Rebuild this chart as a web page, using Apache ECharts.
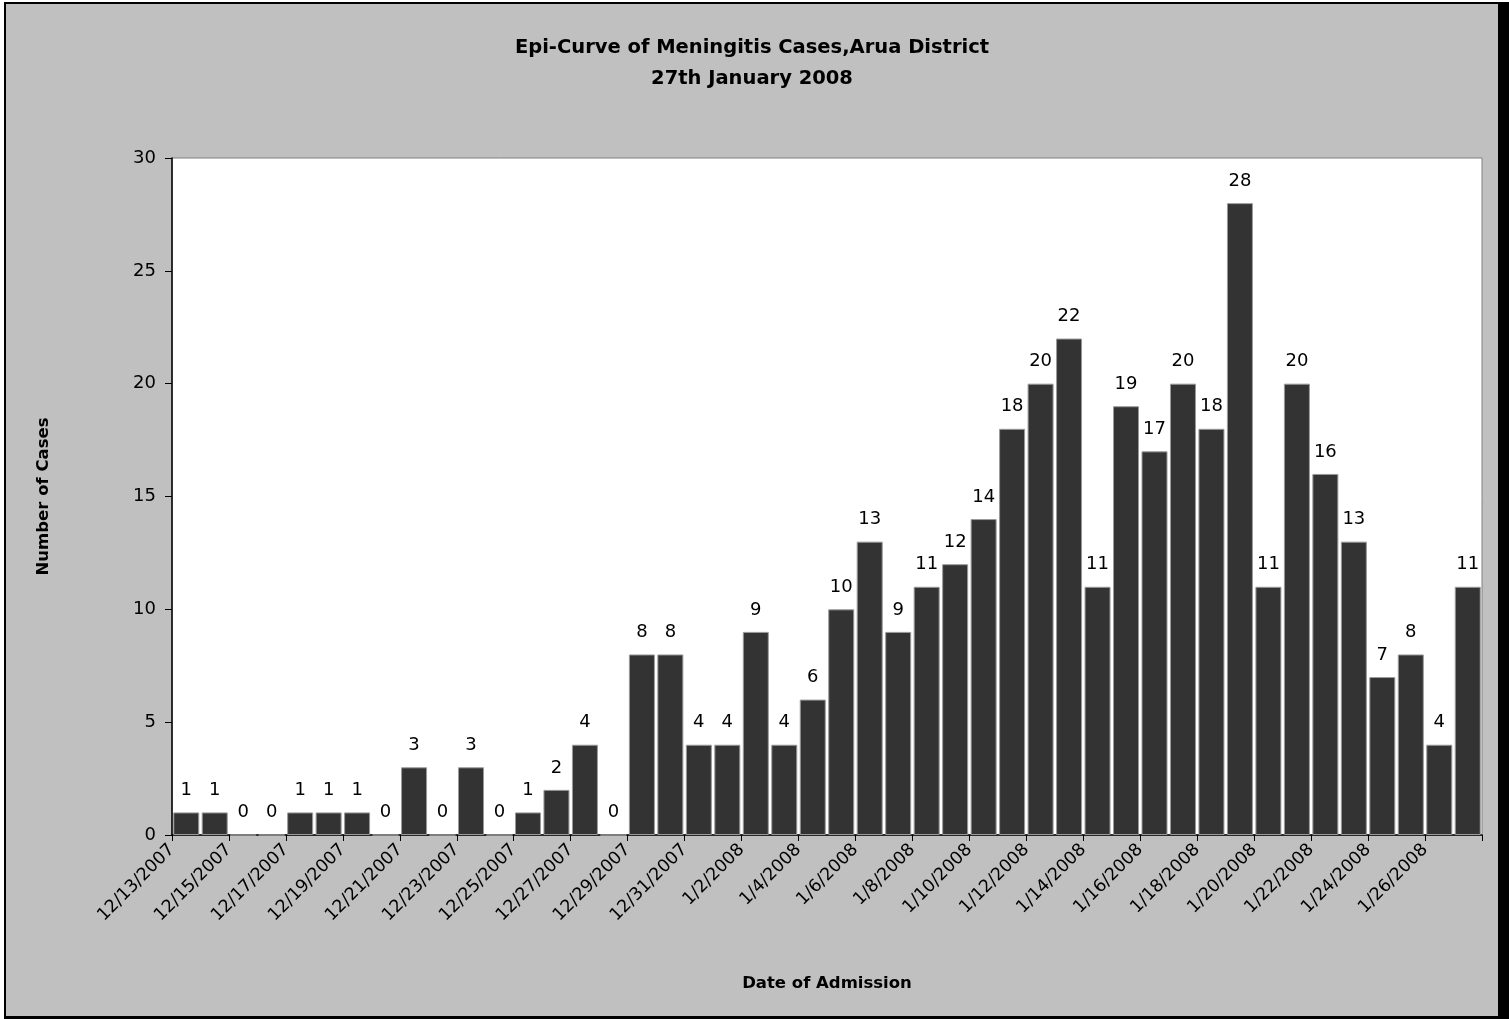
<!DOCTYPE html>
<html>
<head>
<meta charset="utf-8">
<script src="https://cdn.jsdelivr.net/npm/echarts@6/dist/echarts.min.js"></script>
<style>
html,body{margin:0;padding:0;background:#fff;width:1509px;height:1019px;overflow:hidden;}
#frame{position:absolute;left:4px;top:2px;width:1505px;height:1017px;background:#000;}
#chart{position:absolute;left:6px;top:4px;width:1492px;height:1012px;background:#c0c0c0;}
</style>
</head>
<body>
<div id="frame"></div>
<div id="chart"></div>
<script>
const categories = [
  '12/13/2007','12/14/2007','12/15/2007','12/16/2007','12/17/2007','12/18/2007','12/19/2007','12/20/2007',
  '12/21/2007','12/22/2007','12/23/2007','12/24/2007','12/25/2007','12/26/2007','12/27/2007','12/28/2007',
  '12/29/2007','12/30/2007','12/31/2007','1/1/2008','1/2/2008','1/3/2008','1/4/2008','1/5/2008',
  '1/6/2008','1/7/2008','1/8/2008','1/9/2008','1/10/2008','1/11/2008','1/12/2008','1/13/2008',
  '1/14/2008','1/15/2008','1/16/2008','1/17/2008','1/18/2008','1/19/2008','1/20/2008','1/21/2008',
  '1/22/2008','1/23/2008','1/24/2008','1/25/2008','1/26/2008','1/27/2008'
];
const cases = [
  1,1,0,0,1,1,1,0,
  3,0,3,0,1,2,4,0,
  8,8,4,4,9,4,6,10,
  13,9,11,12,14,18,20,22,
  11,19,17,20,18,28,11,20,
  16,13,7,8,4,11
];
const yTicks = [0,5,10,15,20,25,30];

const FONT = '"DejaVu Sans", sans-serif';
const chart = echarts.init(document.getElementById('chart'), null, {renderer:'canvas'});
chart.setOption({
  backgroundColor: '#c0c0c0',
  animation: false,
  title: {
    text: 'Epi-Curve of Meningitis Cases,Arua District\n27th January 2008',
    left: 'center',
    top: 23,
    textStyle: {fontFamily: FONT, fontWeight: 'bold', fontSize: 19.5, color: '#000', lineHeight: 31}
  },
  grid: {
    left: 166, top: 154, right: 16, bottom: 181,
    show: true, backgroundColor: '#ffffff', borderColor: '#808080', borderWidth: 1
  },
  xAxis: {
    type: 'value',
    min: 0, max: categories.length, interval: 2,
    name: 'Date of Admission',
    nameLocation: 'middle',
    nameGap: 140,
    nameTextStyle: {fontFamily: FONT, fontWeight: 'bold', fontSize: 16.5, color: '#000'},
    splitLine: {show: false},
    axisLine: {show: true, lineStyle: {color: '#000', width: 1.5}},
    axisTick: {show: true, length: 6, lineStyle: {color: '#000'}},
    axisLabel: {
      rotate: 45, margin: 12,
      fontFamily: FONT, fontSize: 17.5, color: '#000',
      showMaxLabel: true, showMinLabel: true,
      formatter: v => (v < categories.length ? categories[v] : '')
    }
  },
  yAxis: {
    type: 'value',
    min: yTicks[0], max: yTicks[yTicks.length-1], interval: 5,
    name: 'Number of Cases',
    nameLocation: 'middle',
    nameGap: 120,
    nameTextStyle: {fontFamily: FONT, fontWeight: 'bold', fontSize: 16.5, color: '#000'},
    splitLine: {show: false},
    axisLine: {show: true, lineStyle: {color: '#000', width: 1.5}},
    axisTick: {show: true, inside: false, length: 7, lineStyle: {color: '#000'}},
    axisLabel: {fontFamily: FONT, fontSize: 18, color: '#000', margin: 16}
  },
  series: [{
    type: 'bar',
    data: cases.map((v, i) => [i + 0.5, v]),
    barWidth: 26,
    itemStyle: {color: '#333333', borderColor: '#9a9a9a', borderWidth: 1},
    label: {
      show: true, position: 'top', distance: 13,
      fontFamily: FONT, fontSize: 18, color: '#000',
      formatter: p => p.value[1]
    }
  }]
});
</script>
</body>
</html>
